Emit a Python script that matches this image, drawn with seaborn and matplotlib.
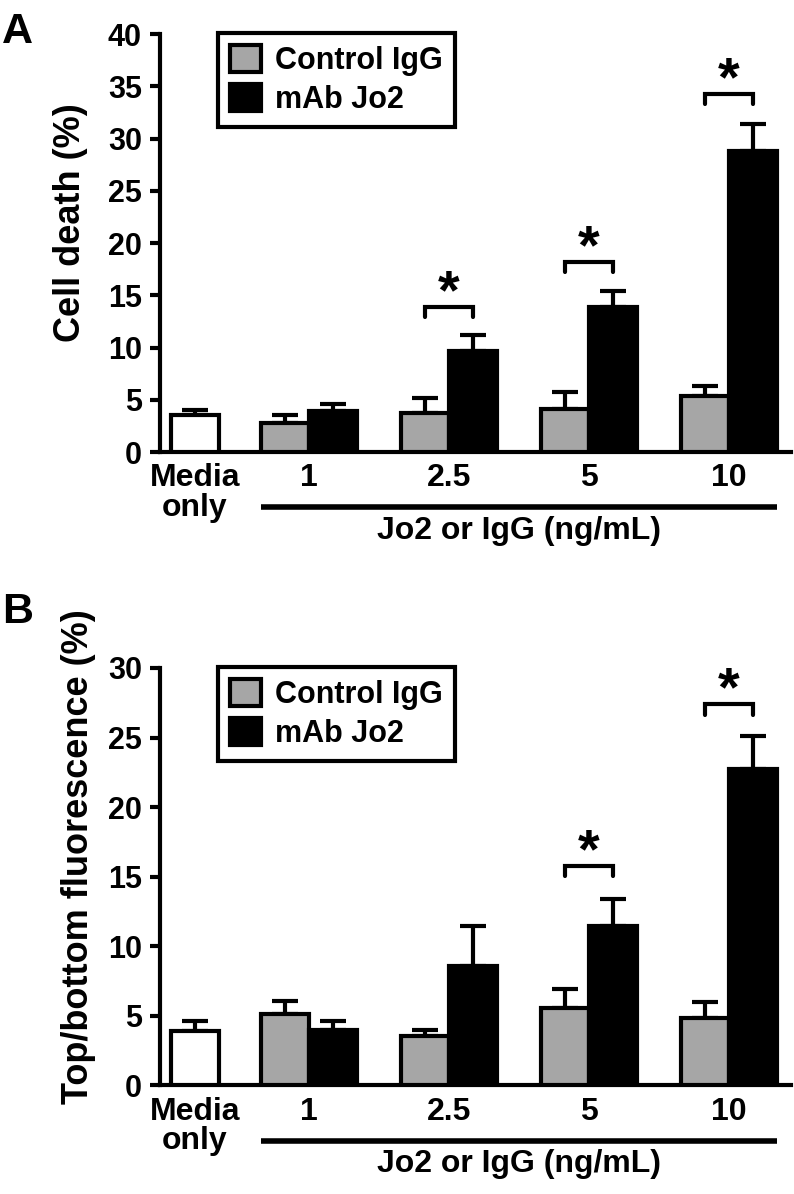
import numpy as np
import pandas as pd
import matplotlib.pyplot as plt
import seaborn as sns
from matplotlib.patches import Patch
import matplotlib.transforms as mtransforms

# ---- data ----
doses = ["1", "2.5", "5", "10"]
treatments = ["Control IgG", "mAb Jo2"]
media_label = "Media\nonly"
xlabel_text = "Jo2 or IgG (ng/mL)"

# panel A: cell death (%)
death_media = 3.5
death_media_err = 0.55
death_igg = [2.8, 3.7, 4.15, 5.4]
death_igg_err = [0.7, 1.45, 1.6, 0.9]
death_jo2 = [3.9, 9.7, 13.9, 28.8]
death_jo2_err = [0.65, 1.5, 1.55, 2.55]
death_sig_doses = ["2.5", "5", "10"]
death_sig_heights = [13.9, 18.2, 34.3]

# panel B: top/bottom fluorescence (%)
fluor_media = 3.9
fluor_media_err = 0.72
fluor_igg = [5.1, 3.55, 5.6, 4.85]
fluor_igg_err = [0.95, 0.4, 1.35, 1.15]
fluor_jo2 = [3.95, 8.6, 11.45, 22.75]
fluor_jo2_err = [0.7, 2.85, 1.95, 2.35]
fluor_sig_doses = ["5", "10"]
fluor_sig_heights = [15.8, 27.4]

# ---- style ----
GRAY = "#a6a6a6"
LW = 3
BAR_W = 0.345
MEDIA_X = -0.814
XLIM = (-1.064, 3.443)

sns.set_style("ticks")
plt.rcParams["font.family"] = ["Liberation Sans", "DejaVu Sans"]
plt.rcParams["font.weight"] = "bold"
plt.rcParams["axes.labelweight"] = "bold"
for k in ["text.color", "axes.labelcolor", "xtick.color", "ytick.color", "axes.edgecolor"]:
    plt.rcParams[k] = "black"


def draw_panel(ax, media, media_err, igg, igg_err, jo2, jo2_err,
               sig_doses, sig_heights, ymax, ylabel, leg_len, ylab_x, ylab_y):
    df = pd.DataFrame({
        "dose": np.tile(np.arange(len(doses)), 2),
        "treatment": np.repeat(treatments, len(doses)),
        "value": igg + jo2,
    })
    sns.barplot(data=df, x="dose", y="value", hue="treatment", hue_order=treatments,
                palette=[GRAY, "black"], saturation=1, native_scale=True,
                width=2 * BAR_W, dodge=True, errorbar=None, legend=False,
                edgecolor="black", linewidth=LW, zorder=3, ax=ax)
    sns.barplot(x=[MEDIA_X], y=[media], native_scale=True, width=BAR_W,
                color="white", saturation=1, errorbar=None,
                edgecolor="black", linewidth=LW, zorder=3, ax=ax)

    bars = ax.patches
    igg_bars = bars[0:4]
    jo2_bars = bars[4:8]
    media_bar = bars[8]
    centers = lambda ps: [p.get_x() + p.get_width() / 2 for p in ps]
    igg_x, jo2_x = centers(igg_bars), centers(jo2_bars)

    # one-sided (upper) error bars, hidden below the bar top
    xs = igg_x + jo2_x + centers([media_bar])
    ys = igg + jo2 + [media]
    errs = igg_err + jo2_err + [media_err]
    ax.errorbar(xs, ys, yerr=[np.zeros(len(errs)), errs], fmt="none",
                ecolor="black", elinewidth=LW, capsize=9.5, capthick=LW, zorder=2)

    # significance brackets
    for dose, h in zip(sig_doses, sig_heights):
        i = doses.index(dose)
        x0, x1 = igg_x[i], jo2_x[i]
        ax.plot([x0, x0, x1, x1], [h - leg_len, h, h, h - leg_len], color="black",
                lw=LW, solid_joinstyle="miter", clip_on=False, zorder=4)
        ax.annotate("*", xy=((x0 + x1) / 2, h), xytext=(0, -1),
                    textcoords="offset points", ha="center", va="baseline",
                    fontsize=40, fontweight="bold")

    ax.set_xlim(*XLIM)
    ax.set_ylim(0, ymax)
    ax.set_yticks(np.arange(0, ymax + 1, 5))
    ax.set_xticks([MEDIA_X] + list(range(len(doses))), labels=[media_label] + doses)
    for t in ax.get_xticklabels():
        t.set_linespacing(0.98)
        t.set_verticalalignment("top")
    ax.tick_params(axis="x", length=0, pad=8, labelsize=23)
    ax.tick_params(axis="y", length=7, width=LW, pad=6, labelsize=22)
    ax.set_xlabel("")
    ax.set_ylabel(ylabel, fontsize=26, fontweight="bold")
    ax.yaxis.set_label_coords(ylab_x, ylab_y)
    sns.despine(ax=ax)
    for s in ["left", "bottom"]:
        ax.spines[s].set_linewidth(LW)
        ax.spines[s].set_capstyle("projecting")

    # line under dose groups + x label
    trans = mtransforms.blended_transform_factory(ax.transData, ax.transAxes)
    left = igg_bars[0].get_x()
    right = jo2_bars[-1].get_x() + jo2_bars[-1].get_width()
    ax.plot([left, right], [-0.132, -0.132], color="black", lw=4,
            transform=trans, clip_on=False, solid_capstyle="butt")
    ax.text((left + right) / 2, -0.188, xlabel_text, transform=trans,
            ha="center", va="center", fontsize=23, fontweight="bold")

    handles = [Patch(facecolor=GRAY, edgecolor="black", linewidth=LW),
               Patch(facecolor="black", edgecolor="black", linewidth=LW)]
    leg = ax.legend(handles, treatments, loc="upper left",
                    bbox_to_anchor=(0.092, 1.003), borderaxespad=0,
                    fontsize=22, handlelength=1.0, handleheight=1.0,
                    handletextpad=0.45, borderpad=0.4, labelspacing=0.25,
                    fancybox=False, framealpha=1, edgecolor="black")
    leg.get_frame().set_linewidth(LW)


fig = plt.figure(figsize=(7.94, 11.94), dpi=100)
ax_a = fig.add_axes([0.2015, 0.6214, 0.7947, 0.3501])
ax_b = fig.add_axes([0.2015, 0.0909, 0.7947, 0.3497])

draw_panel(ax_a, death_media, death_media_err, death_igg, death_igg_err,
           death_jo2, death_jo2_err, death_sig_doses, death_sig_heights,
           40, "Cell death (%)", 1.0, -0.114, 0.55)
draw_panel(ax_b, fluor_media, fluor_media_err, fluor_igg, fluor_igg_err,
           fluor_jo2, fluor_jo2_err, fluor_sig_doses, fluor_sig_heights,
           30, "Top/bottom fluorescence (%)", 0.75, -0.102, 0.547)

fig.text(0.003, 1 - 43 / 1194, "A", fontsize=31, fontweight="bold", va="baseline")
fig.text(0.003, 1 - 623 / 1194, "B", fontsize=31, fontweight="bold", va="baseline")

fig.savefig("out.png", dpi=100)
